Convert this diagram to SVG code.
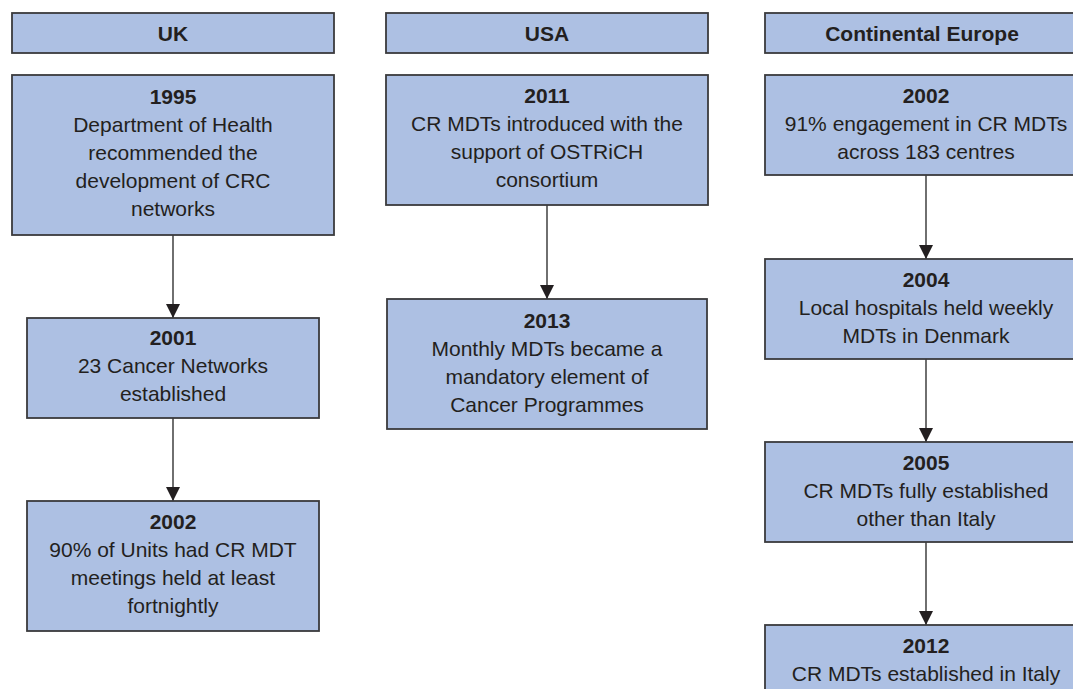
<svg xmlns="http://www.w3.org/2000/svg" width="1073" height="689" viewBox="0 0 1073 689">
<style>
.box{fill:#adc0e3;stroke:#3a3a3c;stroke-width:1.8}
.t{font-family:"Liberation Sans",Arial,Helvetica,sans-serif;font-size:21px;fill:#231f20;text-anchor:middle}
.b{font-weight:bold}
.c{stroke:#333333;stroke-width:1.4;fill:none}
</style>
<defs>
<marker id="ah" markerUnits="userSpaceOnUse" markerWidth="16" markerHeight="14" viewBox="0 0 16 14" refX="15" refY="7" orient="auto">
<path d="M1,0 L15,7 L1,14 Z" fill="#231f20"/>
</marker>
</defs>
<rect width="1073" height="689" fill="#ffffff"/>
<g id="connectors">
<line class="c" x1="173" y1="235" x2="173" y2="318" marker-end="url(#ah)"/>
<line class="c" x1="173" y1="418" x2="173" y2="501" marker-end="url(#ah)"/>
<line class="c" x1="547" y1="205" x2="547" y2="299" marker-end="url(#ah)"/>
<line class="c" x1="926" y1="175" x2="926" y2="259" marker-end="url(#ah)"/>
<line class="c" x1="926" y1="359" x2="926" y2="442" marker-end="url(#ah)"/>
<line class="c" x1="926" y1="542" x2="926" y2="625" marker-end="url(#ah)"/>
</g>
<g id="hdr-uk">
<rect class="box" x="12" y="13" width="322" height="40"/>
<text class="t b" x="173" y="40.5">UK</text>
</g>
<g id="hdr-usa">
<rect class="box" x="386" y="13" width="322" height="40"/>
<text class="t b" x="547" y="40.5">USA</text>
</g>
<g id="hdr-ce">
<rect class="box" x="765" y="13" width="322" height="40"/>
<text class="t b" x="922" y="40.5">Continental Europe</text>
</g>
<g id="uk-1995">
<rect class="box" x="12" y="75" width="322" height="160"/>
<text class="t b" x="173" y="103.5">1995</text>
<text class="t" x="173" y="131.5">Department of Health</text>
<text class="t" x="173" y="159.5">recommended the</text>
<text class="t" x="173" y="187.5">development of CRC</text>
<text class="t" x="173" y="215.5">networks</text>
</g>
<g id="uk-2001">
<rect class="box" x="27" y="318" width="292" height="100"/>
<text class="t b" x="173" y="345">2001</text>
<text class="t" x="173" y="373">23 Cancer Networks</text>
<text class="t" x="173" y="401">established</text>
</g>
<g id="uk-2002">
<rect class="box" x="27" y="501" width="292" height="130"/>
<text class="t b" x="173" y="528.5">2002</text>
<text class="t" x="173" y="556.5">90% of Units had CR MDT</text>
<text class="t" x="173" y="584.5">meetings held at least</text>
<text class="t" x="173" y="612.5">fortnightly</text>
</g>
<g id="usa-2011">
<rect class="box" x="386" y="75" width="322" height="130"/>
<text class="t b" x="547" y="103">2011</text>
<text class="t" x="547" y="131">CR MDTs introduced with the</text>
<text class="t" x="547" y="159">support of OSTRiCH</text>
<text class="t" x="547" y="187">consortium</text>
</g>
<g id="usa-2013">
<rect class="box" x="387" y="299" width="320" height="130"/>
<text class="t b" x="547" y="327.5">2013</text>
<text class="t" x="547" y="355.5">Monthly MDTs became a</text>
<text class="t" x="547" y="383.5">mandatory element of</text>
<text class="t" x="547" y="411.5">Cancer Programmes</text>
</g>
<g id="ce-2002">
<rect class="box" x="765" y="75" width="322" height="100"/>
<text class="t b" x="926" y="103">2002</text>
<text class="t" x="926" y="131">91% engagement in CR MDTs</text>
<text class="t" x="926" y="159">across 183 centres</text>
</g>
<g id="ce-2004">
<rect class="box" x="765" y="259" width="322" height="100"/>
<text class="t b" x="926" y="287">2004</text>
<text class="t" x="926" y="315">Local hospitals held weekly</text>
<text class="t" x="926" y="343">MDTs in Denmark</text>
</g>
<g id="ce-2005">
<rect class="box" x="765" y="442" width="322" height="100"/>
<text class="t b" x="926" y="470">2005</text>
<text class="t" x="926" y="498">CR MDTs fully established</text>
<text class="t" x="926" y="526">other than Italy</text>
</g>
<g id="ce-2012">
<rect class="box" x="765" y="625" width="322" height="80"/>
<text class="t b" x="926" y="653">2012</text>
<text class="t" x="926" y="681">CR MDTs established in Italy</text>
</g>
</svg>
